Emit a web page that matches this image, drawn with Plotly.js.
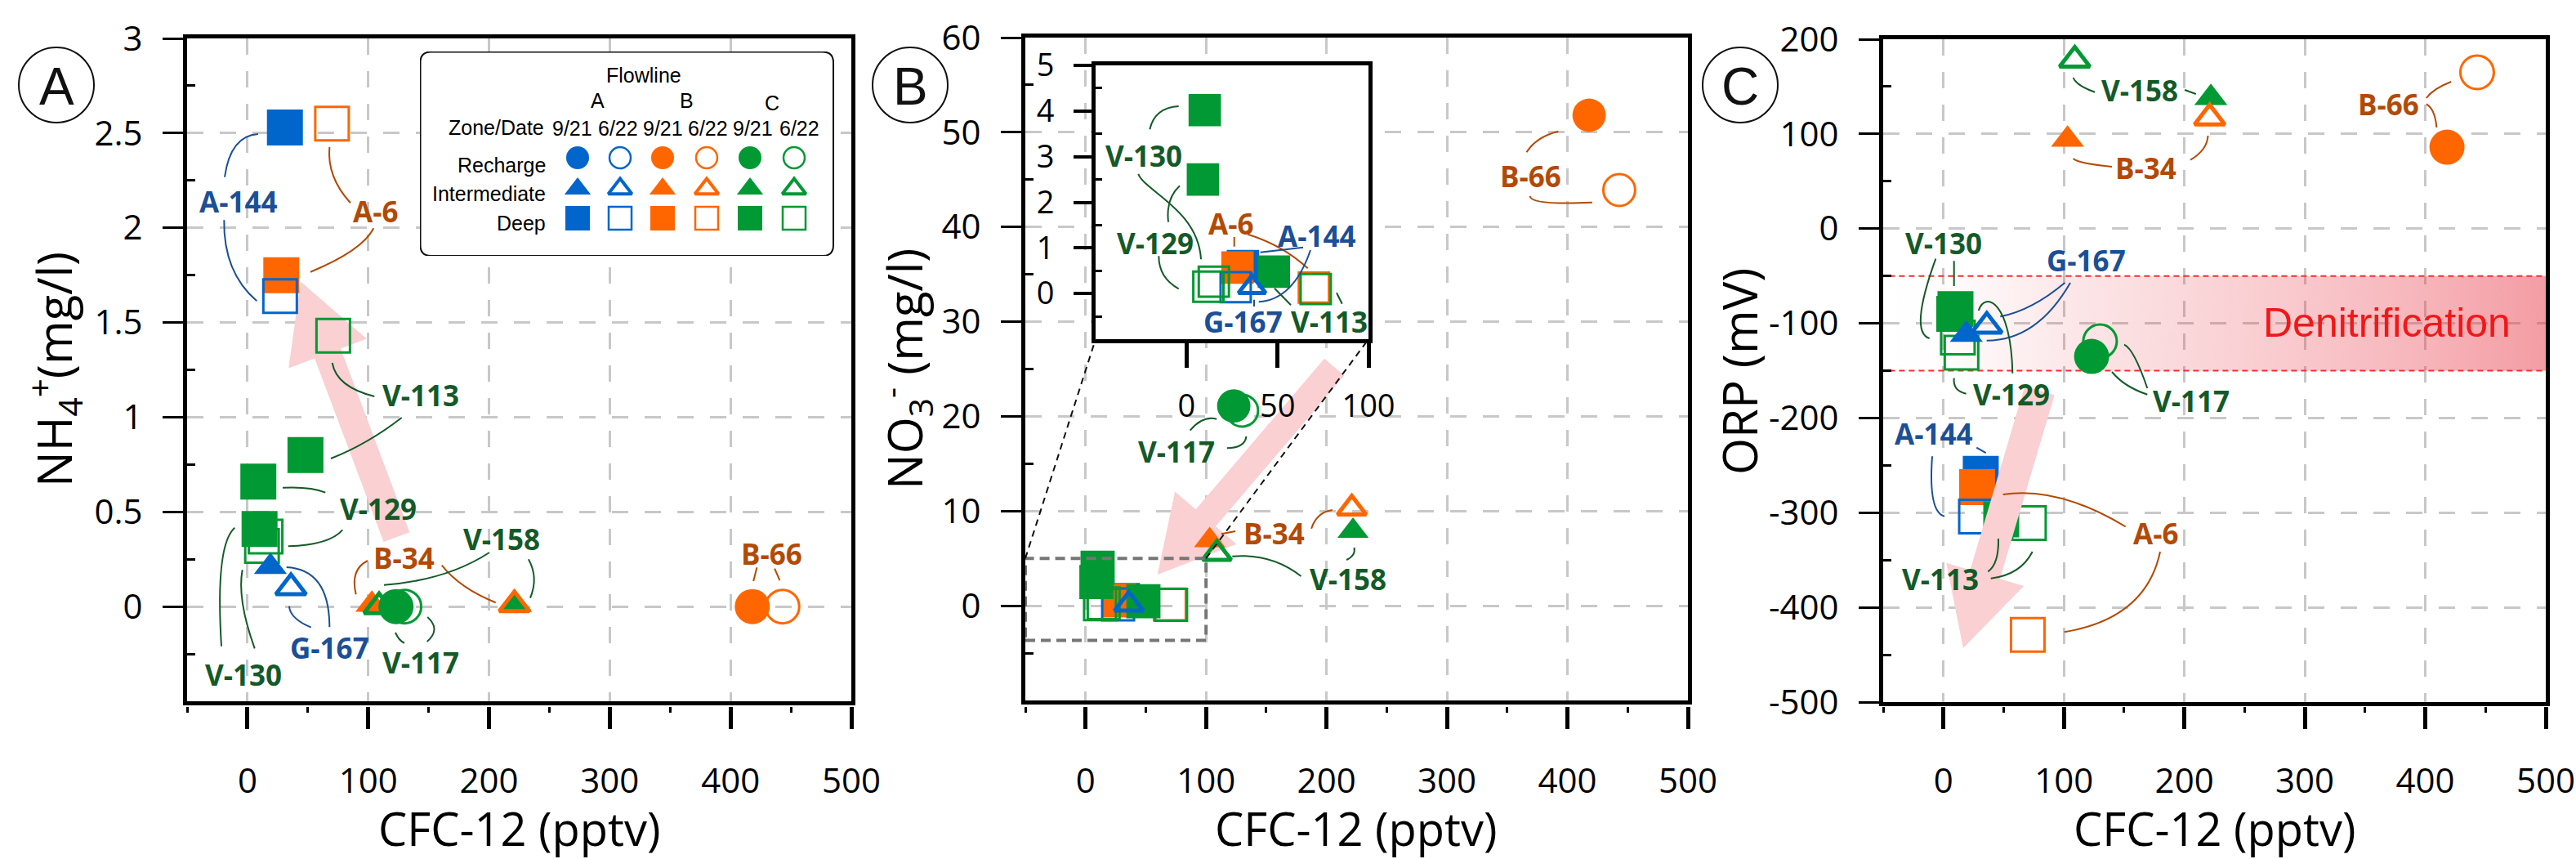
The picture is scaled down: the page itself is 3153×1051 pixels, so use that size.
<!DOCTYPE html>
<html><head><meta charset="utf-8">
<script src="https://cdn.plot.ly/plotly-3.0.1.min.js"></script>
<style>html,body{margin:0;padding:0;background:#fff}#chart{width:3153px;height:1051px}</style>
</head><body><div id="chart"></div>
<script>
const W = 3153, H = 1051;

// ---------------- DATA ----------------
const sites     = ['A-144','G-167','A-6','B-34','B-66','V-113','V-117','V-129','V-130','V-158'];
const flowline  = ['A','A','B','B','B','C','C','C','C','C'];
const zone      = ['Deep','Intermediate','Deep','Intermediate','Recharge','Deep','Recharge','Deep','Deep','Intermediate'];
const cfc12_0921 = [31, 19, 28, 103, 418, 48, 123, 9, 10, 222];
const cfc12_0622 = [27, 36, 70, 221, 443, 71, 130, 15, 12, 109];
const nh4_0921 = [2.53, 0.21, 1.75, 0.01, 0.0, 0.80, 0.0, 0.66, 0.41, 0.01];
const nh4_0622 = [1.64, 0.10, 2.55, 0.01, 0.0, 1.43, 0.0, 0.37, 0.32, 0.0];
const no3_0921 = [0.6, null, 0.57, 6.9, 51.8, 0.48, 21.1, 2.5, 4.02, 7.9];
const no3_0622 = [0.14, 0.14, 0.13, 10.3, 43.9, 0.1, 20.6, 0.26, 0.15, 5.5];
const orp_0921 = [-259, -112, -273, 94, 86, -307, -135, -90, -85, 138];
const orp_0622 = [-304, -103, -429, 117, 165, -311, -119, -131, -115, 178];

const dates = ['9/21', '6/22'];
const flowlines = ['A', 'B', 'C'];
const zones = ['Recharge', 'Intermediate', 'Deep'];

const xTickVals = [0, 100, 200, 300, 400, 500];
const xTickText = ['0', '100', '200', '300', '400', '500'];
const nh4TickVals = [0, 0.5, 1, 1.5, 2, 2.5, 3];
const nh4TickText = ['0', '0.5', '1', '1.5', '2', '2.5', '3'];
const no3TickVals = [0, 10, 20, 30, 40, 50, 60];
const no3TickText = ['0', '10', '20', '30', '40', '50', '60'];
const orpTickVals = [-500, -400, -300, -200, -100, 0, 100, 200];
const orpTickText = ['-500', '-400', '-300', '-200', '-100', '0', '100', '200'];
const insetXTickVals = [0, 50, 100];
const insetXTickText = ['0', '50', '100'];
const insetYTickVals = [0, 1, 2, 3, 4, 5];
const insetYTickText = ['0', '1', '2', '3', '4', '5'];
const denitBand = [-150, -50];

// ---------------- STYLE ----------------
const colors = {A: '#0066CC', B: '#FF6600', C: '#009933'};
const labelColors = {A: '#1B4F96', B: '#B24A06', C: '#145A28'};
const symbols = {Recharge: 'circle', Intermediate: 'triangle-up', Deep: 'square'};
const sizeFilled = {Recharge: 43, Intermediate: 35, Deep: 44};
const sizeOpen = {Recharge: 41, Intermediate: 32, Deep: 41};
const openW = {Recharge: 3, Intermediate: 5, Deep: 3};
const drawOrder = [
  ['A','9/21','Deep'],['B','9/21','Deep'],['C','9/21','Intermediate'],['B','9/21','Intermediate'],
  ['C','6/22','Intermediate'],['B','6/22','Intermediate'],['A','6/22','Deep'],['B','6/22','Deep'],
  ['C','6/22','Deep'],['C','9/21','Deep'],['A','9/21','Intermediate'],['A','6/22','Intermediate'],
  ['C','6/22','Recharge'],['C','9/21','Recharge'],['B','9/21','Recharge'],['B','6/22','Recharge']
];
const XR = [-50, 500];
const PANEL = {
  A: {xpx: [229, 1042], ypx: [47, 858], yr: [-0.5, 3]},
  B: {xpx: [1255, 2066], ypx: [46, 857], yr: [-10, 60]},
  C: {xpx: [2305, 3116], ypx: [48, 859], yr: [-500, 200]},
  I: {xpx: [1341, 1675], ypx: [80, 415], xr: [-50, 100], yr: [-1, 5]},
  L: {xpx: [514, 1021], ypx: [63, 313]}
};
const tickFont = {family: 'Open Sans', size: 42, color: '#000'};
const grid = {showgrid: true, gridcolor: '#C8C8C8', gridwidth: 3, griddash: '20px,20px'};
const xd = p => [p.xpx[0] / W, p.xpx[1] / W];
const yd = p => [1 - p.ypx[1] / H, 1 - p.ypx[0] / H];

function mainX(p, anchor) {
  return Object.assign({domain: xd(p), range: XR, anchor, tickmode: 'array', tickvals: xTickVals,
    showline: true, mirror: true, linecolor: '#000', linewidth: 5, ticks: '', showticklabels: false,
    zeroline: false, fixedrange: true}, grid);
}
function tickX(over) {
  return {overlaying: over, anchor: 'free', position: 1 - 864 / H, range: XR, tickmode: 'array',
    tickvals: xTickVals, ticktext: xTickText, ticks: 'outside', ticklen: 27, tickwidth: 5, tickcolor: '#000',
    showline: false, showgrid: false, zeroline: false, tickfont: tickFont, ticklabelstandoff: 28,
    minor: {ticks: 'outside', ticklen: 7, tickwidth: 3, tickcolor: '#000', tickmode: 'linear', tick0: -50, dtick: 100, showgrid: false},
    fixedrange: true};
}
function mainY(p, anchor, tv, tt, m0, md) {
  return Object.assign({domain: yd(p), range: p.yr, anchor, tickmode: 'array', tickvals: tv, ticktext: tt,
    showline: true, mirror: true, linecolor: '#000', linewidth: 5, ticks: 'outside', ticklen: 25, tickwidth: 3,
    tickcolor: '#000', tickfont: tickFont, ticklabelstandoff: 16, zeroline: false,
    minor: {ticks: 'inside', ticklen: 10, tickwidth: 3, tickcolor: '#000', tickmode: 'linear', tick0: m0, dtick: md, showgrid: false},
    fixedrange: true}, grid);
}

// pixel <-> data helpers for my own layout
function mapOf(p, xr) {
  const r = xr || XR;
  const kx = (p.xpx[1] - p.xpx[0]) / (r[1] - r[0]);
  const ky = (p.ypx[1] - p.ypx[0]) / (p.yr[1] - p.yr[0]);
  return {
    toPx: (x, y) => [p.xpx[0] + (x - r[0]) * kx, p.ypx[0] + (p.yr[1] - y) * ky],
    toData: (px, py) => [r[0] + (px - p.xpx[0]) / kx, p.yr[1] - (py - p.ypx[0]) / ky]
  };
}
const MAP = {A: mapOf(PANEL.A), B: mapOf(PANEL.B), C: mapOf(PANEL.C), I: mapOf(PANEL.I, PANEL.I.xr)};

// ---------------- TRACES ----------------
const traces = [];
traces.push({type: 'scatter', mode: 'lines', x: [-45, 500, 500, -45, -45],
  y: [denitBand[1], denitBand[1], denitBand[0], denitBand[0], denitBand[1]],
  xaxis: 'x3', yaxis: 'y3', fill: 'toself', line: {width: 0}, hoverinfo: 'skip', showlegend: false,
  fillgradient: {type: 'horizontal', colorscale: [
    [0, 'rgba(232,58,72,0)'], [0.1, 'rgba(232,58,72,0.02)'], [0.27, 'rgba(232,58,72,0.12)'],
    [0.45, 'rgba(232,58,72,0.2)'], [0.65, 'rgba(232,58,72,0.29)'], [0.82, 'rgba(232,58,72,0.38)'],
    [1, 'rgba(232,58,72,0.5)']]}});

function markerTraces(xa, ya, v0921, v0622, scale) {
  drawOrder.forEach(([fl, dt, zn]) => {
    const idx = sites.map((s, i) => i).filter(i => flowline[i] === fl && zone[i] === zn);
    if (!idx.length) return;
    const open = dt === '6/22';
    const xs = idx.map(i => open ? cfc12_0622[i] : cfc12_0921[i]);
    const ys = idx.map(i => open ? v0622[i] : v0921[i]);
    traces.push({type: 'scatter', mode: 'markers', x: xs, y: ys, xaxis: xa, yaxis: ya,
      hoverinfo: 'skip', showlegend: false,
      marker: {symbol: symbols[zn] + (open ? '-open' : ''), size: (open ? sizeOpen[zn] : sizeFilled[zn]) * scale,
        color: colors[fl], line: {width: open ? openW[zn] : 0, color: colors[fl]}}});
  });
}
markerTraces('x', 'y', nh4_0921, nh4_0622, 1);
markerTraces('x2', 'y2', no3_0921, no3_0622, 0.95);
markerTraces('x4', 'y4', no3_0921, no3_0622, 0.9);
markerTraces('x3', 'y3', orp_0921, orp_0622, 1);

[['x6', 'y'], ['x7', 'y2'], ['x8', 'y3']].forEach(([xa, ya]) =>
  traces.push({type: 'scatter', mode: 'markers', x: [null], y: [null], xaxis: xa, yaxis: ya, showlegend: false, hoverinfo: 'skip'}));

// legend key markers (pixel coordinates inside legend box)
const legColX = [707, 759, 811, 865, 918, 972];
const legRowY = {Recharge: 193, Intermediate: 231, Deep: 267};
const legSize = {Recharge: 28, Intermediate: 28, Deep: 30};
const legOpenSize = {Recharge: 26, Intermediate: 25, Deep: 28};
let col = 0;
flowlines.forEach(fl => dates.forEach(dt => {
  const open = dt === '6/22';
  const cx = legColX[col++];
  zones.forEach(zn => traces.push({type: 'scatter', mode: 'markers', x: [cx], y: [legRowY[zn]], xaxis: 'x5', yaxis: 'y5',
    hoverinfo: 'skip', showlegend: false, cliponaxis: false,
    marker: {symbol: symbols[zn] + (open ? '-open' : ''), size: open ? legOpenSize[zn] : legSize[zn], color: colors[fl],
      line: {width: open ? (zn === 'Intermediate' ? 4 : 2.5) : 0, color: colors[fl]}}}));
}));

// ---------------- SHAPES ----------------
const shapes = [];
const P = (px, py) => `${(px / W).toFixed(5)},${(1 - py / H).toFixed(5)}`;

function arrow(key, xa, ya, tail, tip, sw, hw, hl, layer) {
  const m = MAP[key];
  const [tx, ty] = m.toPx(tail[0], tail[1]);
  const [px, py] = m.toPx(tip[0], tip[1]);
  const L = Math.hypot(px - tx, py - ty);
  const ux = (px - tx) / L, uy = (py - ty) / L, nx = -uy, ny = ux;
  const bx = px - ux * hl, by = py - uy * hl;
  const pts = [[tx + nx * sw / 2, ty + ny * sw / 2], [bx + nx * sw / 2, by + ny * sw / 2], [bx + nx * hw / 2, by + ny * hw / 2],
    [px, py], [bx - nx * hw / 2, by - ny * hw / 2], [bx - nx * sw / 2, by - ny * sw / 2], [tx - nx * sw / 2, ty - ny * sw / 2]];
  const d = pts.map((q, i) => { const v = m.toData(q[0], q[1]); return (i ? 'L' : 'M') + v[0].toFixed(3) + ',' + v[1].toFixed(4); }).join(' ') + ' Z';
  shapes.push({type: 'path', xref: xa, yref: ya, path: d, fillcolor: '#FAD0D2', line: {width: 0}, layer});
}
arrow('A', 'x', 'y', [123.5, 0.367], [44, 1.716], 34, 102, 94, 'between');
arrow('B', 'x2', 'y2', [206.5, 25.2], [59.7, 3.3], 32, 99, 91, 'between');
arrow('C', 'x3', 'y3', [79.9, -171], [16.4, -443], 38, 99, 94, 'above');

denitBand.forEach(v => shapes.push({type: 'line', xref: 'x3', yref: 'y3', x0: -45, x1: 500, y0: v, y1: v,
  line: {color: '#FF2A2A', width: 2, dash: '7px,5px'}, layer: 'between'}));

shapes.push({type: 'rect', xref: 'x2', yref: 'y2', x0: -50, x1: 100, y0: -3.65, y1: 5,
  line: {color: '#767676', width: 4, dash: '12px,7px'}, layer: 'above'});
{
  const c1 = MAP.B.toPx(-50, 5), c2 = MAP.B.toPx(100, 5);
  const i1 = [PANEL.I.xpx[0], PANEL.I.ypx[1]], i2 = [PANEL.I.xpx[1], PANEL.I.ypx[1]];
  [[c1, i1], [c2, i2]].forEach(([a, b]) => shapes.push({type: 'path', xref: 'paper', yref: 'paper',
    path: `M${P(a[0], a[1])} L${P(b[0], b[1])}`, line: {color: '#111', width: 2, dash: '8px,6px'}, layer: 'above'}));
}

{
  const x0 = 514.5, x1 = 1020, y0 = 63.5, y1 = 313, r = 13;
  shapes.push({type: 'path', xref: 'x5', yref: 'y5', layer: 'above', line: {color: '#111', width: 2},
    path: `M${x0 + r},${y0} H${x1 - r} Q${x1},${y0} ${x1},${y0 + r} V${y1 - r} Q${x1},${y1} ${x1 - r},${y1} H${x0 + r} Q${x0},${y1} ${x0},${y1 - r} V${y0 + r} Q${x0},${y0} ${x0 + r},${y0} Z`});
}

const letters = [['A', 69, 104], ['B', 1114, 104], ['C', 2130, 104]];
letters.forEach(([t, cx, cy]) => shapes.push({type: 'circle', xref: 'paper', yref: 'paper',
  x0: (cx - 46) / W, x1: (cx + 46) / W, y0: 1 - (cy + 46) / H, y1: 1 - (cy - 46) / H, line: {color: '#111', width: 2}, layer: 'above'}));

const leaders = [
  // panel A
  ['A', 316,164, 282,166, 275,216.7], ['A', 274.3,269.3, 273.3,333.3, 314.3,368.3],
  ['B', 403.3,180, 400,216.7, 429,248.3], ['B', 457.3,279.3, 443.3,306.7, 380,332.7],
  ['C', 406.7,444, 411.7,473.3, 458.3,485], ['C', 491.7,511, 450,543.3, 405,561],
  ['C', 398.3,602.7, 380,595, 346,596.7], ['C', 419.3,648.3, 403.3,666.7, 352.7,668.3],
  ['C', 271,790.7, 263.3,666.7, 287.3,645.7], ['C', 311.7,793.3, 290,733.3, 296.7,697.3],
  ['A', 380.7,767.7, 355,756.7, 354,741.7], ['A', 403.3,767.3, 403.3,696.7, 350.7,694],
  ['B', 450,686, 428.3,696.7, 435.7,727.3], ['B', 540.7,691.7, 563.3,720, 606.7,737.3],
  ['C', 599,676, 546.7,710, 470,715.7], ['C', 646.9,684.3, 659.4,706.7, 649,731.7],
  ['C', 484,774, 488.3,784, 495,786.7], ['C', 523.3,755, 540,770, 522.7,785],
  ['B', 926.4,694.3, 922.2,711], ['B', 948.1,695.7, 954.4,710],
  // panel B
  ['C', 1407.3,158.3, 1413.3,131.7, 1442.7,130], ['C', 1393.3,212.7, 1400,233.3, 1466.7,256.7, 1470,317.3],
  ['C', 1430,271.7, 1426.7,243.3, 1444,227.3], ['C', 1418.3,313.3, 1418.3,340, 1442.7,353.3],
  ['B', 1510.7,290, 1510.7,301.7], ['B', 1527.3,286.7, 1570,300, 1600.7,328.3],
  ['A', 1595,302.7, 1542.7,308.7], ['A', 1604,306, 1583.3,366.7, 1540.7,369.3],
  ['A', 1535,366.7, 1535,375], ['C', 1560,352.7, 1580,373.3], ['C', 1636,358.3, 1642.7,371.7],
  ['B', 1907.3,160.7, 1880.5,167.4, 1868.5,186.2], ['B', 1872.5,239.8, 1873.8,251.2, 1948.9,247.8],
  ['C', 1456.7,526.7, 1472,508.3, 1489.2,512.7], ['C', 1501.8,548.3, 1523.6,548.3, 1525.5,534],
  ['B', 1494.9,653.3, 1512.1,650], ['B', 1605.1,646.7, 1611.7,626.7, 1630.8,624],
  ['C', 1592.5,705, 1556.2,676.7, 1508.3,680.7], ['C', 1648,685, 1659.5,680, 1657.6,670],
  // panel C
  ['C', 2537.6,95, 2541.5,105, 2564.1,112.7], ['C', 2674,110, 2687.8,115],
  ['B', 2537.6,194, 2543.5,200, 2585,204], ['B', 2681.1,195.7, 2701.7,183.3, 2702.5,166],
  ['B', 2969.8,120, 2978.4,108.3, 3000.2,100], ['B', 2969.8,127.3, 2980.4,133.3, 2982.4,156],
  ['C', 2369.3,316.7, 2336.7,406.7, 2361.7,414], ['C', 2391.7,319.3, 2391.7,350],
  ['A', 2527.3,346, 2486.7,380, 2448.3,387.3], ['A', 2534,346, 2493.3,416.7, 2431.7,416.7],
  ['C', 2391.7,462.7, 2390,478.3, 2406.7,481.7], ['C', 2463.3,456.7, 2461.7,370, 2430,355, 2421.7,380],
  ['C', 2628.3,482.7, 2600,473.3, 2585,455], ['C', 2628.3,475, 2611.7,426.7, 2600,421.7],
  ['A', 2419.3,547.7, 2430.7,554], ['A', 2365,558.3, 2360,626.7, 2380,631.7],
  ['C', 2433.3,699.3, 2446.7,690, 2446,659], ['C', 2436.7,707.7, 2473.3,703.3, 2487.7,675],
  ['B', 2601.7,644.3, 2520,595, 2451.7,605], ['B', 2644,675, 2626.7,756.7, 2526.7,773.3]
];
leaders.forEach(l => {
  const k = l[0], c = l.slice(1);
  let d;
  if (c.length === 4) d = `M${P(c[0], c[1])} L${P(c[2], c[3])}`;
  else if (c.length === 6) d = `M${P(c[0], c[1])} Q${P(c[2], c[3])} ${P(c[4], c[5])}`;
  else d = `M${P(c[0], c[1])} C${P(c[2], c[3])} ${P(c[4], c[5])} ${P(c[6], c[7])}`;
  shapes.push({type: 'path', xref: 'paper', yref: 'paper', path: d, line: {color: labelColors[k], width: 2}, layer: 'above'});
});

// ---------------- ANNOTATIONS ----------------
const ann = [];
const txt = (t, px, py, font, extra) => ann.push(Object.assign({text: t, x: px / W, y: 1 - py / H, xref: 'paper', yref: 'paper',
  showarrow: false, xanchor: 'center', yanchor: 'middle', font}, extra || {}));

const siteLabels = [
  ['A-144',291.7,244], ['A-6',460,256], ['V-113',515,481.7], ['V-129',463.3,620], ['V-130',298.3,823.3],
  ['G-167',403.3,790], ['V-117',515,808.3], ['B-34',495,680], ['V-158',614,657], ['B-66',944,675],
  ['V-130',1400,188.3], ['V-129',1414.3,295], ['A-6',1506.7,271.7], ['A-144',1611.7,286.7], ['G-167',1521.7,391.7],
  ['V-113',1626.7,391.7], ['B-66',1873.8,213], ['V-117',1440.2,550], ['B-34',1559.2,650], ['V-158',1650,706.7],
  ['V-158',2618.6,108.3], ['B-34',2626.5,203.3], ['B-66',2923.1,125], ['V-130',2379.3,295], ['G-167',2553.3,316.7],
  ['V-129',2461.7,480], ['V-117',2682,488.5], ['A-144',2366.7,528.3], ['V-113',2375,706.7], ['A-6',2638.3,650]
];
siteLabels.forEach(([s, x, y]) => txt(s, x, y + 2,
  {family: 'Open Sans', size: 35, weight: 700, color: labelColors[flowline[sites.indexOf(s)]]}));

const axFont = {family: 'Open Sans', size: 56, color: '#000'};
const ayFont = {family: 'Open Sans', size: 58, color: '#000'};
txt('CFC-12 (pptv)', 635.5, 1013, axFont);
txt('CFC-12 (pptv)', 1660.5, 1013, axFont);
txt('CFC-12 (pptv)', 2710.5, 1013, axFont);
txt('NH<sub>4</sub><sup>+</sup>(mg/l)', 67, 452, ayFont, {textangle: -90});
txt('NO<sub>3</sub><sup>-</sup> (mg/l)', 1108, 452, ayFont, {textangle: -90});
txt('ORP (mV)', 2128, 455, ayFont, {textangle: -90});
letters.forEach(([t, cx, cy]) => txt(t, cx, cy + 2, {family: 'Liberation Sans', size: 64, color: '#111'}));
txt('Denitrification', 2921.7, 395, {family: 'Liberation Sans', size: 50, color: '#F01818'});

const lf = {family: 'Liberation Sans', size: 25, color: '#000'};
txt('Flowline', 788.3, 92, lf);
[['A', 731], ['B', 840.7], ['C', 945]].forEach(([t, x], i) => txt(t, x, i === 2 ? 126 : 123, lf));
txt('Zone/Date', 668.3, 156, lf, {xanchor: 'right'});
const dateX = [700, 756.7, 811.7, 866.7, 921.7, 978.3];
dateX.forEach((x, i) => txt(dates[i % 2], x, 157, lf));
txt('Recharge', 670, 202, lf, {xanchor: 'right'});
txt('Intermediate', 670, 237, lf, {xanchor: 'right'});
txt('Deep', 670, 273, lf, {xanchor: 'right'});

// ---------------- LAYOUT ----------------
const layout = {
  width: W, height: H, margin: {l: 0, r: 0, t: 0, b: 0, pad: 0, autoexpand: false},
  paper_bgcolor: '#fff', plot_bgcolor: '#fff', showlegend: false,
  font: {family: 'Open Sans', color: '#000'},
  xaxis: mainX(PANEL.A, 'y'), yaxis: mainY(PANEL.A, 'x', nh4TickVals, nh4TickText, 0.25, 0.5),
  xaxis2: mainX(PANEL.B, 'y2'), yaxis2: mainY(PANEL.B, 'x2', no3TickVals, no3TickText, 5, 10),
  xaxis3: mainX(PANEL.C, 'y3'), yaxis3: mainY(PANEL.C, 'x3', orpTickVals, orpTickText, -450, 100),
  xaxis4: {domain: xd(PANEL.I), range: PANEL.I.xr, anchor: 'y4', tickmode: 'array', tickvals: insetXTickVals, ticktext: insetXTickText,
    showline: true, mirror: true, linecolor: '#000', linewidth: 5, ticks: 'outside', ticklen: 30, tickwidth: 5, tickcolor: '#000',
    showgrid: false, zeroline: false, tickfont: {family: 'Open Sans', size: 38, color: '#000'}, ticklabelstandoff: 14, fixedrange: true},
  yaxis4: {domain: yd(PANEL.I), range: PANEL.I.yr, anchor: 'x4', tickmode: 'array', tickvals: insetYTickVals, ticktext: insetYTickText,
    showline: true, mirror: true, linecolor: '#000', linewidth: 5, ticks: 'outside', ticklen: 22, tickwidth: 4, tickcolor: '#000',
    showgrid: false, zeroline: false, tickfont: {family: 'Open Sans', size: 38, color: '#000'}, ticklabelstandoff: 16,
    minor: {ticks: 'inside', ticklen: 8, tickwidth: 3, tickcolor: '#000', tickmode: 'linear', tick0: -0.5, dtick: 1, showgrid: false},
    fixedrange: true},
  xaxis5: {domain: xd(PANEL.L), range: [PANEL.L.xpx[0], PANEL.L.xpx[1]], anchor: 'y5', visible: false, fixedrange: true},
  yaxis5: {domain: yd(PANEL.L), range: [PANEL.L.ypx[1], PANEL.L.ypx[0]], anchor: 'x5', visible: false, fixedrange: true},
  xaxis6: tickX('x'), xaxis7: tickX('x2'), xaxis8: tickX('x3'),
  shapes, annotations: ann
};

Plotly.newPlot('chart', traces, layout, {displayModeBar: false, staticPlot: true});
</script>
</body></html>
